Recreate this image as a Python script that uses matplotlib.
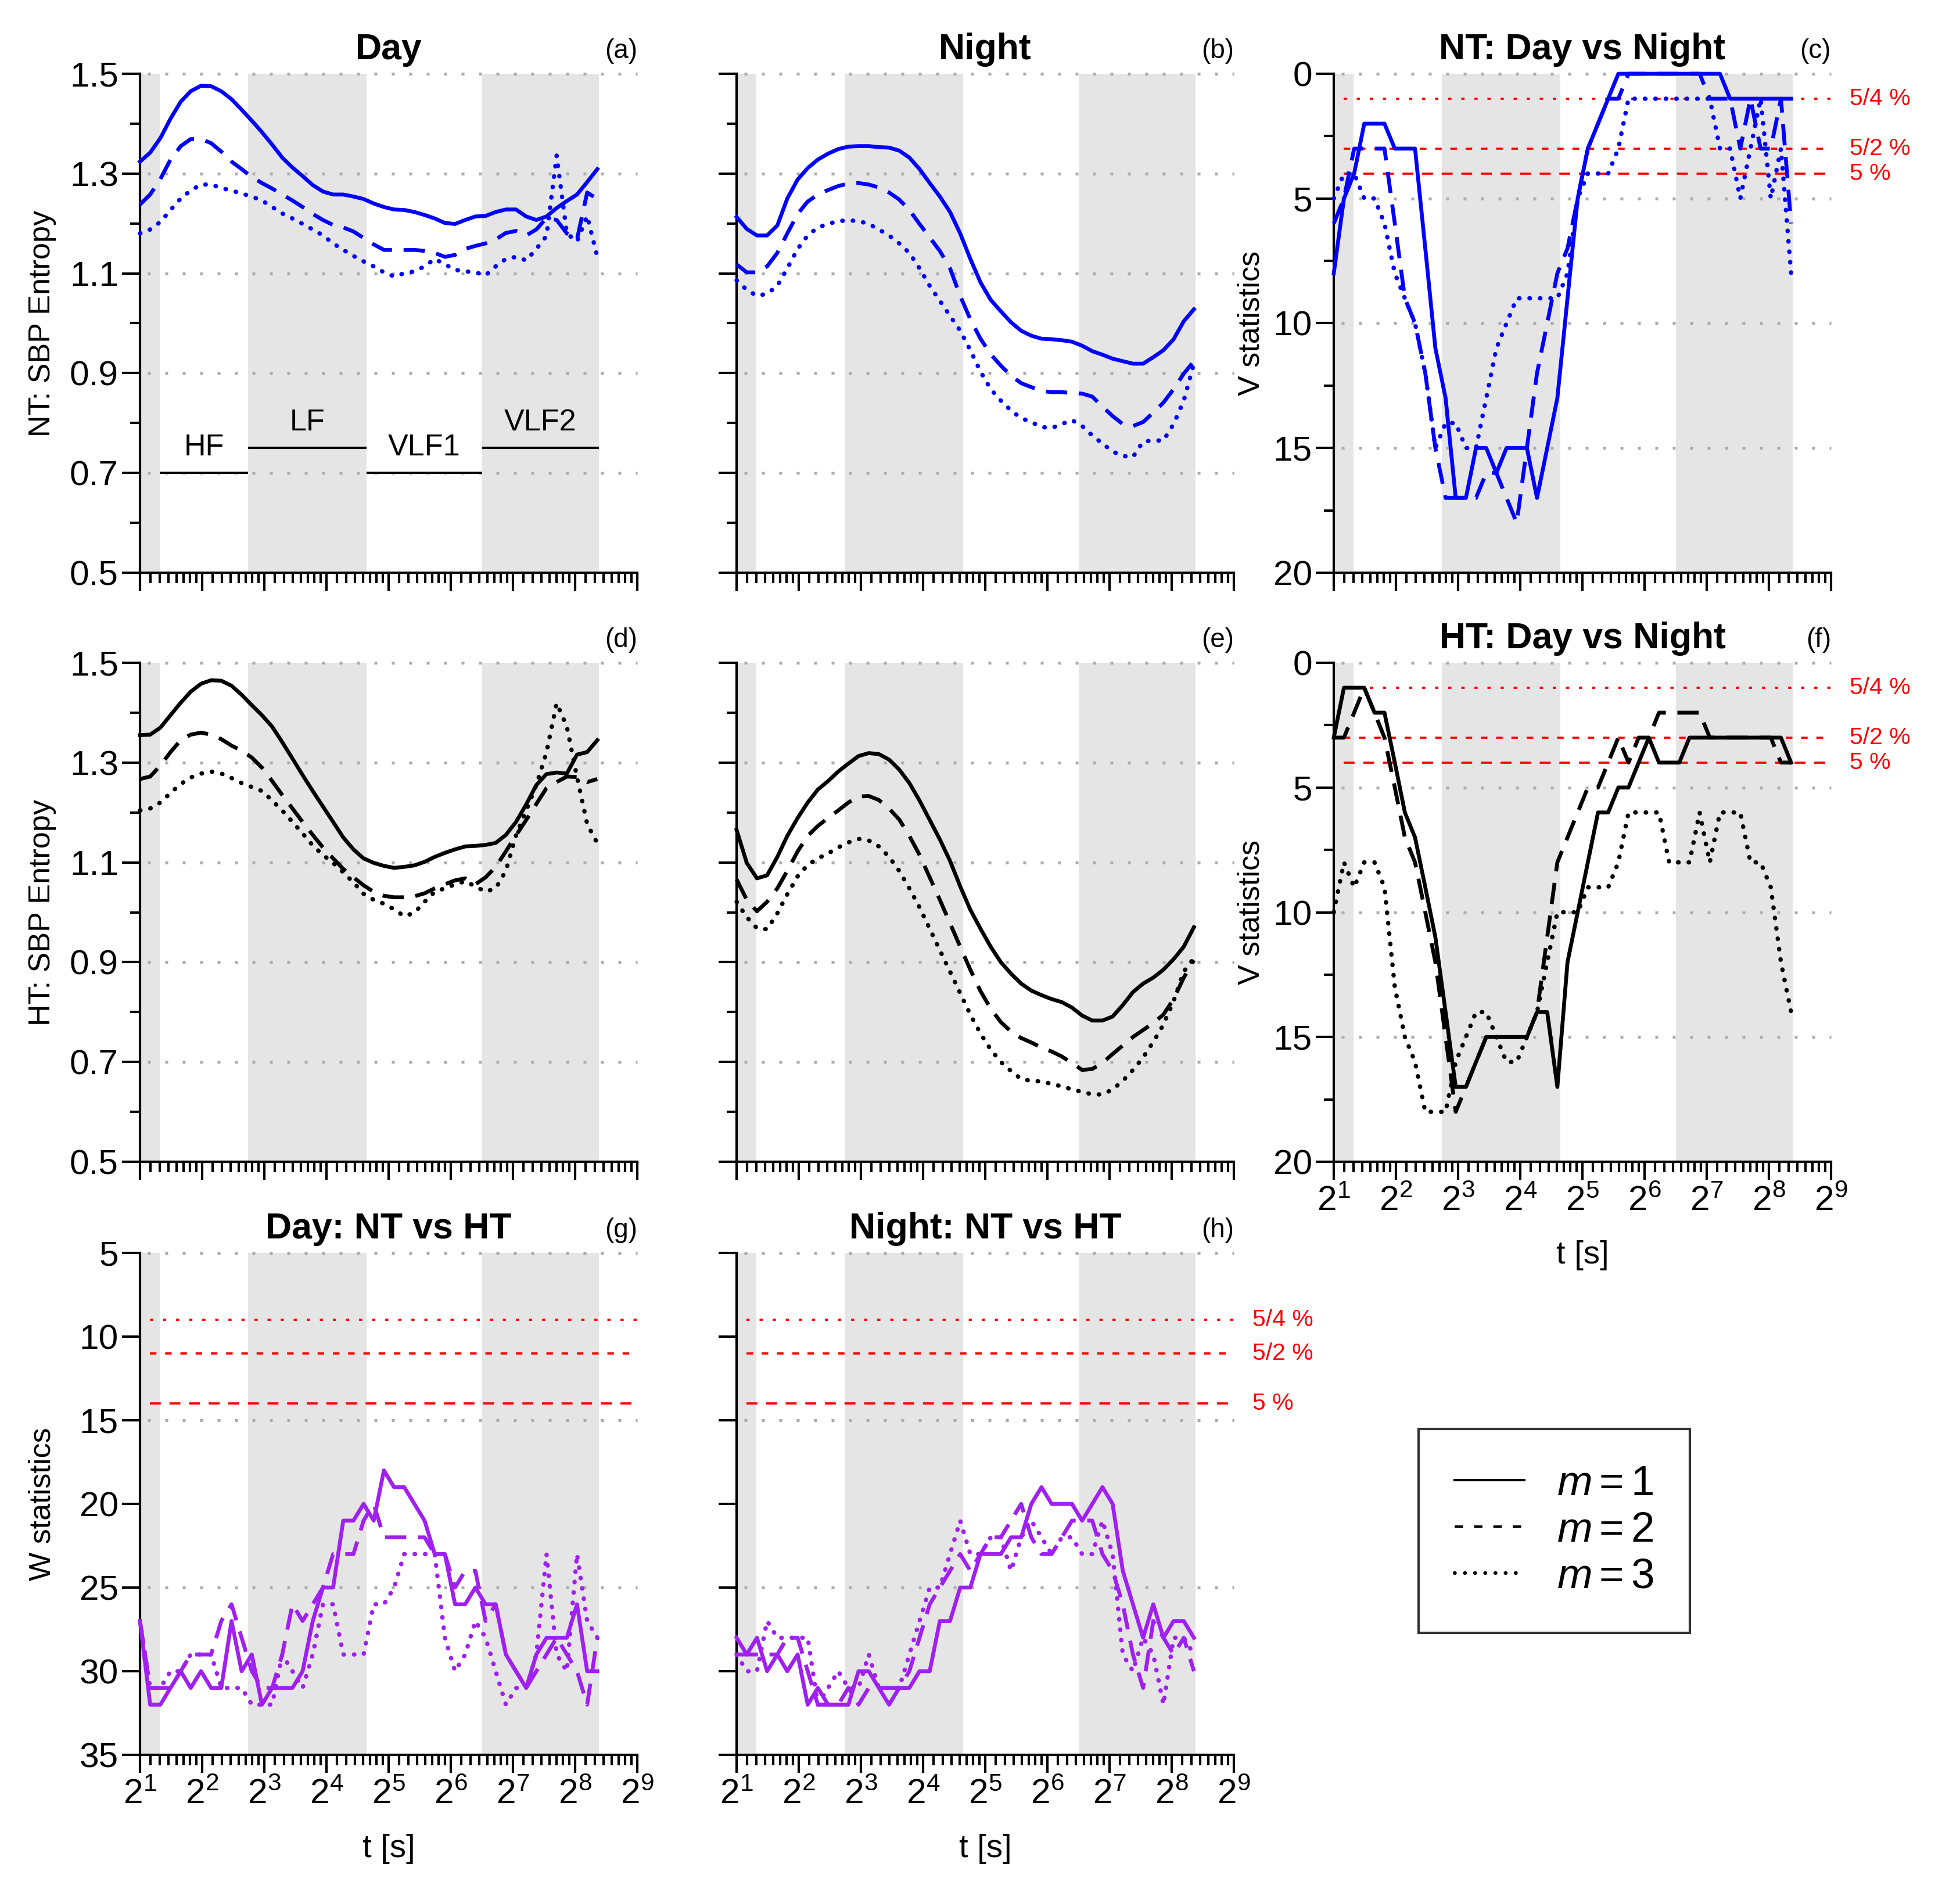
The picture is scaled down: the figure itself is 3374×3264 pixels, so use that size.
import numpy as np
import matplotlib
matplotlib.use('Agg')
import matplotlib.pyplot as plt
from matplotlib.ticker import (LogLocator, LogFormatterMathtext, NullFormatter,
                               FixedLocator, FormatStrFormatter)
from matplotlib.lines import Line2D

plt.rcParams['font.family'] = ['Liberation Sans', 'DejaVu Sans']
plt.rcParams['mathtext.fontset'] = 'custom'
plt.rcParams['mathtext.rm'] = 'Liberation Sans'
plt.rcParams['mathtext.it'] = 'Liberation Sans:italic'
plt.rcParams['mathtext.bf'] = 'Liberation Sans:bold'

# ---------------- data ----------------
T = [2.00, 2.24, 2.51, 2.81, 3.15, 3.52, 3.95, 4.42, 4.95, 5.55,
     6.21, 6.96, 7.79, 8.73, 9.77, 10.95, 12.26, 13.73, 15.38, 17.23,
     19.29, 21.61, 24.20, 27.10, 30.36, 34.00, 38.08, 42.65, 47.77, 53.50,
     59.92, 67.11, 75.16, 84.18, 94.29, 105.60, 118.27, 132.46, 148.36, 166.16,
     186.10, 208.43, 233.45, 261.46, 292.84, 327.98]

# (a) NT, Day: SBP entropy
NT_DAY_M1 = [1.324, 1.342, 1.371, 1.410, 1.444, 1.465, 1.476, 1.475, 1.465, 1.449,
             1.428, 1.406, 1.383, 1.358, 1.332, 1.312, 1.295, 1.277, 1.264, 1.258,
             1.258, 1.254, 1.249, 1.240, 1.233, 1.228, 1.227, 1.223, 1.217, 1.210,
             1.201, 1.199, 1.207, 1.214, 1.215, 1.223, 1.228, 1.228, 1.214, 1.207,
             1.214, 1.231, 1.245, 1.258, 1.283, 1.309]
NT_DAY_M2 = [1.238, 1.258, 1.289, 1.328, 1.355, 1.369, 1.369, 1.361, 1.344, 1.324,
             1.309, 1.293, 1.281, 1.270, 1.258, 1.246, 1.233, 1.219, 1.207, 1.197,
             1.192, 1.184, 1.171, 1.158, 1.147, 1.147, 1.147, 1.147, 1.145, 1.141,
             1.133, 1.137, 1.149, 1.155, 1.160, 1.168, 1.181, 1.185, 1.176, 1.188,
             1.211, 1.207, 1.180, 1.168, 1.262, 1.249]
NT_DAY_M3 = [1.180, 1.188, 1.203, 1.227, 1.250, 1.266, 1.278, 1.278, 1.271, 1.266,
             1.260, 1.254, 1.246, 1.233, 1.220, 1.210, 1.199, 1.188, 1.176, 1.160,
             1.147, 1.135, 1.124, 1.114, 1.102, 1.094, 1.100, 1.104, 1.114, 1.129,
             1.118, 1.107, 1.104, 1.102, 1.096, 1.114, 1.129, 1.133, 1.126, 1.149,
             1.175, 1.336, 1.180, 1.164, 1.215, 1.133]

# (b) NT, Night
NT_NIGHT_M1 = [1.213, 1.189, 1.176, 1.176, 1.196, 1.250, 1.288, 1.311, 1.328, 1.340,
               1.349, 1.354, 1.355, 1.355, 1.353, 1.352, 1.346, 1.332, 1.309, 1.281,
               1.254, 1.223, 1.180, 1.129, 1.082, 1.047, 1.024, 1.002, 0.985, 0.975,
               0.969, 0.968, 0.966, 0.963, 0.955, 0.944, 0.937, 0.929, 0.924, 0.919,
               0.919, 0.932, 0.946, 0.968, 1.004, 1.028]
NT_NIGHT_M2 = [1.118, 1.102, 1.102, 1.114, 1.141, 1.180, 1.219, 1.244, 1.258, 1.267,
               1.275, 1.280, 1.281, 1.278, 1.272, 1.262, 1.248, 1.227, 1.199, 1.172,
               1.145, 1.110, 1.055, 1.008, 0.969, 0.938, 0.915, 0.895, 0.880, 0.872,
               0.864, 0.862, 0.862, 0.860, 0.859, 0.853, 0.833, 0.814, 0.798, 0.794,
               0.802, 0.821, 0.841, 0.868, 0.899, 0.924]
NT_NIGHT_M3 = [1.086, 1.067, 1.055, 1.059, 1.075, 1.110, 1.149, 1.176, 1.192, 1.199,
               1.205, 1.206, 1.205, 1.199, 1.188, 1.176, 1.160, 1.141, 1.110, 1.075,
               1.045, 1.015, 0.985, 0.946, 0.903, 0.868, 0.845, 0.825, 0.810, 0.802,
               0.792, 0.790, 0.798, 0.806, 0.794, 0.775, 0.759, 0.743, 0.734, 0.732,
               0.763, 0.765, 0.765, 0.798, 0.845, 0.919]

# (d) HT, Day
HT_DAY_M1 = [1.355, 1.356, 1.370, 1.395, 1.420, 1.442, 1.458, 1.465, 1.464, 1.454,
             1.436, 1.415, 1.395, 1.372, 1.341, 1.308, 1.275, 1.243, 1.212, 1.181,
             1.150, 1.126, 1.108, 1.099, 1.093, 1.089, 1.091, 1.094, 1.101, 1.111,
             1.119, 1.126, 1.132, 1.133, 1.135, 1.139, 1.155, 1.181, 1.216, 1.255,
             1.277, 1.280, 1.278, 1.316, 1.321, 1.345]
HT_DAY_M2 = [1.267, 1.272, 1.294, 1.321, 1.345, 1.356, 1.360, 1.356, 1.347, 1.334,
             1.324, 1.310, 1.290, 1.263, 1.235, 1.208, 1.181, 1.155, 1.130, 1.108,
             1.087, 1.070, 1.054, 1.041, 1.033, 1.030, 1.030, 1.032, 1.038, 1.048,
             1.056, 1.064, 1.068, 1.056, 1.070, 1.091, 1.122, 1.154, 1.185, 1.217,
             1.249, 1.261, 1.272, 1.271, 1.261, 1.267]
HT_DAY_M3 = [1.204, 1.208, 1.220, 1.239, 1.257, 1.270, 1.278, 1.282, 1.278, 1.269,
             1.259, 1.251, 1.243, 1.224, 1.204, 1.181, 1.158, 1.134, 1.115, 1.099,
             1.080, 1.060, 1.037, 1.025, 1.017, 1.006, 0.992, 0.999, 1.021, 1.041,
             1.048, 1.056, 1.062, 1.052, 1.041, 1.048, 1.083, 1.154, 1.204, 1.255,
             1.321, 1.419, 1.372, 1.271, 1.177, 1.138]

# (e) HT, Night
HT_NIGHT_M1 = [1.165, 1.099, 1.068, 1.074, 1.111, 1.153, 1.189, 1.220, 1.246, 1.263,
               1.282, 1.298, 1.313, 1.319, 1.317, 1.306, 1.286, 1.259, 1.224, 1.185,
               1.146, 1.103, 1.052, 1.005, 0.967, 0.931, 0.900, 0.877, 0.857, 0.843,
               0.834, 0.826, 0.820, 0.809, 0.793, 0.783, 0.783, 0.791, 0.814, 0.840,
               0.857, 0.869, 0.885, 0.906, 0.931, 0.970]
HT_NIGHT_M2 = [1.066, 1.025, 1.002, 1.021, 1.048, 1.083, 1.122, 1.153, 1.173, 1.189,
               1.204, 1.220, 1.232, 1.233, 1.225, 1.208, 1.186, 1.153, 1.115, 1.070,
               1.025, 0.978, 0.931, 0.885, 0.842, 0.807, 0.780, 0.761, 0.748, 0.739,
               0.729, 0.721, 0.711, 0.698, 0.684, 0.686, 0.698, 0.716, 0.733, 0.750,
               0.764, 0.778, 0.795, 0.826, 0.869, 0.904]
HT_NIGHT_M3 = [1.021, 0.990, 0.968, 0.966, 0.998, 1.036, 1.072, 1.095, 1.108, 1.118,
               1.130, 1.140, 1.147, 1.144, 1.132, 1.111, 1.083, 1.048, 1.010, 0.967,
               0.924, 0.881, 0.838, 0.795, 0.757, 0.725, 0.700, 0.682, 0.666, 0.662,
               0.661, 0.656, 0.651, 0.645, 0.640, 0.635, 0.635, 0.645, 0.662, 0.684,
               0.709, 0.740, 0.775, 0.822, 0.881, 0.908]

# (c) NT: Day vs Night, V statistics
NT_V_M1 = [8, 5, 4, 2, 2, 2, 3, 3, 3, 7,
           11, 13, 17, 17, 15, 15, 16, 15, 15, 15,
           17, 15, 13, 9, 5, 3, 2, 1, 0, 0,
           0, 0, 0, 0, 0, 0, 0, 0, 0, 1,
           1, 1, 1, 1, 1, 1]
NT_V_M2 = [6, 5, 3, 3, 3, 3, 6, 9, 10, 12,
           15, 17, 17, 17, 17, 16, 16, 17, 18, 15,
           12, 10, 8, 7, 5, 3, 2, 1, 1, 0,
           0, 0, 0, 0, 0, 0, 0, 1, 1, 1,
           3, 1, 3, 3, 1, 6]
NT_V_M3 = [5, 4, 4, 5, 5, 6, 8, 9, 10, 12,
           15, 14, 14, 15, 15, 13, 11, 10, 9, 9,
           9, 9, 9, 8, 5, 4, 4, 4, 3, 1,
           1, 1, 1, 1, 1, 1, 1, 1, 3, 3,
           5, 3, 1, 5, 3, 8]

# (f) HT: Day vs Night, V statistics
HT_V_M1 = [3, 1, 1, 1, 2, 2, 4, 6, 7, 9,
           11, 14, 17, 17, 16, 15, 15, 15, 15, 15,
           14, 14, 17, 12, 10, 8, 6, 6, 5, 5,
           4, 3, 4, 4, 4, 3, 3, 3, 3, 3,
           3, 3, 3, 3, 3, 4]
HT_V_M2 = [3, 3, 2, 1, 2, 3, 5, 7, 8, 10,
           12, 15, 18, 17, 16, 15, 15, 15, 15, 15,
           14, 11, 8, 7, 6, 5, 5, 4, 3, 4,
           3, 3, 2, 2, 2, 2, 2, 3, 3, 3,
           3, 3, 3, 3, 4, 4]
HT_V_M3 = [10, 8, 9, 8, 8, 9, 13, 15, 16, 18,
           18, 18, 16, 15, 14, 14, 15, 16, 16, 15,
           14, 12, 10, 10, 10, 9, 9, 9, 8, 6,
           6, 6, 6, 8, 8, 8, 6, 8, 6, 6,
           6, 8, 8, 9, 12, 14]

# (g) Day: NT vs HT, W statistics
DAY_W_M1 = [27, 32, 32, 31, 30, 31, 30, 31, 31, 27,
            30, 29, 32, 31, 31, 31, 30, 27, 25, 25,
            21, 21, 20, 21, 18, 19, 19, 20, 21, 23,
            23, 26, 26, 25, 26, 26, 29, 30, 31, 29,
            28, 28, 28, 26, 30, 30]
DAY_W_M2 = [27, 31, 31, 31, 30, 29, 29, 29, 27, 26,
            28, 30, 31, 31, 29, 26, 27, 26, 25, 23,
            23, 23, 21, 20, 22, 22, 22, 22, 22, 23,
            23, 25, 24, 24, 27, 26, 29, 30, 31, 30,
            29, 28, 29, 30, 32, 28]
DAY_W_M3 = [27, 31, 31, 30, 30, 29, 29, 29, 31, 31,
            31, 32, 32, 32, 29, 30, 31, 29, 26, 26,
            29, 29, 29, 26, 26, 25, 23, 23, 23, 23,
            28, 30, 29, 27, 28, 30, 32, 31, 31, 29,
            23, 29, 30, 23, 27, 28]

# (h) Night: NT vs HT, W statistics
NIGHT_W_M1 = [28, 29, 28, 30, 29, 30, 29, 32, 31, 32,
              32, 32, 30, 30, 31, 32, 31, 31, 30, 30,
              27, 27, 25, 25, 23, 23, 23, 22, 22, 20,
              19, 20, 20, 20, 21, 20, 19, 20, 24, 26,
              28, 26, 28, 27, 27, 28]
NIGHT_W_M2 = [29, 29, 29, 29, 29, 28, 28, 30, 32, 32,
              32, 31, 32, 31, 31, 31, 31, 30, 28, 26,
              25, 24, 23, 24, 23, 22, 22, 21, 20, 22,
              23, 23, 22, 21, 21, 21, 23, 24, 26, 29,
              31, 27, 28, 29, 28, 30]
NIGHT_W_M3 = [29, 30, 30, 27, 28, 28, 28, 28, 32, 31,
              30, 31, 31, 29, 31, 31, 31, 29, 27, 25,
              25, 23, 21, 23, 23, 22, 22, 24, 22, 21,
              22, 23, 22, 22, 23, 23, 21, 23, 29, 30,
              28, 29, 32, 28, 28, 29]

# frequency bands (shaded spans, band label lines)
SHADED = [(2.0, 2.5), (6.67, 25.0), (90.9, 333.3)]
BAND_NAMES = ['HF', 'LF', 'VLF1', 'VLF2']
BAND_EDGES = [(2.5, 6.67), (6.67, 25.0), (25.0, 90.9), (90.9, 333.3)]
BAND_LEVEL = [0.70, 0.75, 0.70, 0.75]

SIG_V = [1, 3, 4]
SIG_W = [9, 11, 14]
SIG_LABELS = ['5/4 %', '5/2 %', '5 %']
M_VALUES = [1, 2, 3]

BLUE = '#0000ff'
PURPLE = '#a020f0'
BLACK = '#000000'

# ---------------- styling ----------------
LINE_STYLES = [
    dict(linestyle='-', lw=1.6),
    dict(linestyle=(0, (5.5, 3.0)), lw=1.6),
    dict(linestyle=(0, (0.1, 2.3)), lw=1.8, dash_capstyle='round'),
]
SIG_STYLES = [(0, (1.5, 4.5)), (0, (3, 4)), (0, (5, 4))]
SHADE_COLOR = '#e5e5e5'
GRID_COLOR = '#ababab'
TICK_FS = 14.5

fig = plt.figure(figsize=(3374 / 300, 3264 / 300), dpi=300)

COL_L = [241 / 3374, 1268 / 3374, 2296 / 3374]
AX_W = 856 / 3374
ROW_B = [1 - 986 / 3264, 1 - 2000 / 3264, 1 - 3021 / 3264]
ROW_H = [859 / 3264, 859 / 3264, 864 / 3264]


def make_ax(r, c):
    return fig.add_axes([COL_L[c], ROW_B[r], AX_W, ROW_H[r]])


def base_setup(ax, kind, xlabels, ylabels):
    ax.set_xscale('log', base=2)
    ax.set_xlim(2, 512)
    for s in ('top', 'right'):
        ax.spines[s].set_visible(False)
    for s in ('left', 'bottom'):
        ax.spines[s].set_linewidth(1.0)
    for a, b in SHADED:
        ax.axvspan(a, b, color=SHADE_COLOR, lw=0, zorder=0)
    ax.xaxis.set_major_locator(LogLocator(base=2, numticks=20))
    ax.xaxis.set_minor_locator(LogLocator(base=2, subs=np.arange(1.125, 2.0, 0.125), numticks=200))
    ax.xaxis.set_minor_formatter(NullFormatter())
    if xlabels:
        ax.xaxis.set_major_formatter(LogFormatterMathtext(base=2))
    else:
        ax.xaxis.set_major_formatter(NullFormatter())
    if kind == 'H':
        ax.set_ylim(0.5, 1.5)
        ax.yaxis.set_major_locator(FixedLocator([0.5, 0.7, 0.9, 1.1, 1.3, 1.5]))
        ax.yaxis.set_minor_locator(FixedLocator([0.6, 0.8, 1.0, 1.2, 1.4]))
        ax.yaxis.set_major_formatter(FormatStrFormatter('%.1f'))
        grid = [0.7, 0.9, 1.1, 1.3, 1.5]
    elif kind == 'V':
        ax.set_ylim(20, 0)
        ax.yaxis.set_major_locator(FixedLocator([0, 5, 10, 15, 20]))
        ax.yaxis.set_minor_locator(FixedLocator([2.5, 7.5, 12.5, 17.5]))
        ax.yaxis.set_major_formatter(FormatStrFormatter('%d'))
        grid = [0, 5, 10, 15]
    else:
        ax.set_ylim(35, 5)
        ax.yaxis.set_major_locator(FixedLocator([5, 10, 15, 20, 25, 30, 35]))
        ax.yaxis.set_minor_locator(FixedLocator([]))
        ax.yaxis.set_major_formatter(FormatStrFormatter('%d'))
        grid = [5, 15, 25]
    if not ylabels:
        ax.yaxis.set_major_formatter(NullFormatter())
    for g in grid:
        ax.axhline(g, xmin=0.015, xmax=1.0, color=GRID_COLOR, lw=1.2,
                   linestyle=(0, (1, 5)), zorder=1, clip_on=False)
    ax.tick_params(which='major', direction='out', length=7.4, width=1.0,
                   labelsize=TICK_FS)
    ax.tick_params(axis='y', which='major', pad=1.5)
    ax.tick_params(axis='x', which='major', pad=2.5)
    ax.tick_params(which='minor', direction='out', length=4.2, width=1.0)


def draw_series(ax, series, color):
    for y, st in zip(series, LINE_STYLES):
        ax.plot(T, y, color=color, clip_on=False, zorder=4, **st)


def draw_sig(ax, levels, labelled):
    for lev, st, lab in zip(levels, SIG_STYLES, SIG_LABELS):
        ax.axhline(lev, xmin=0.02, xmax=1.0, color='red', lw=0.9, linestyle=st,
                   zorder=2, clip_on=False)
        if labelled:
            ax.text(1.037, lev, lab, color='red', fontsize=9.8, ha='left', va='center',
                    transform=ax.get_yaxis_transform(), clip_on=False)


def title(ax, text, letter):
    if text:
        ax.text(0.5, 1.029, text, transform=ax.transAxes, ha='center', va='baseline',
                fontsize=15, fontweight='bold')
    ax.text(1.0, 1.031, letter, transform=ax.transAxes, ha='right', va='baseline',
            fontsize=11)


# (a)
ax = make_ax(0, 0)
base_setup(ax, 'H', False, True)
draw_series(ax, [NT_DAY_M1, NT_DAY_M2, NT_DAY_M3], BLUE)
for name, (x0, x1), lev in zip(BAND_NAMES, BAND_EDGES, BAND_LEVEL):
    ax.hlines(lev, x0, x1, colors='black', lw=1.0, zorder=3)
    ax.text(np.sqrt(x0 * x1), lev + 0.035, name, ha='center', va='baseline', fontsize=12.5)
ax.set_ylabel('NT: SBP Entropy', fontsize=12.5)
ax.yaxis.set_label_coords(-0.168, 0.5)
title(ax, 'Day', '(a)')

# (b)
ax = make_ax(0, 1)
base_setup(ax, 'H', False, False)
draw_series(ax, [NT_NIGHT_M1, NT_NIGHT_M2, NT_NIGHT_M3], BLUE)
title(ax, 'Night', '(b)')

# (c)
ax = make_ax(0, 2)
base_setup(ax, 'V', False, True)
draw_sig(ax, SIG_V, True)
draw_series(ax, [NT_V_M1, NT_V_M2, NT_V_M3], BLUE)
ax.set_ylabel('V statistics', fontsize=12.5)
ax.yaxis.set_label_coords(-0.137, 0.5)
title(ax, 'NT: Day vs Night', '(c)')

# (d)
ax = make_ax(1, 0)
base_setup(ax, 'H', False, True)
draw_series(ax, [HT_DAY_M1, HT_DAY_M2, HT_DAY_M3], BLACK)
ax.set_ylabel('HT: SBP Entropy', fontsize=12.5)
ax.yaxis.set_label_coords(-0.168, 0.5)
title(ax, None, '(d)')

# (e)
ax = make_ax(1, 1)
base_setup(ax, 'H', False, False)
draw_series(ax, [HT_NIGHT_M1, HT_NIGHT_M2, HT_NIGHT_M3], BLACK)
title(ax, None, '(e)')

# (f)
ax = make_ax(1, 2)
base_setup(ax, 'V', True, True)
draw_sig(ax, SIG_V, True)
draw_series(ax, [HT_V_M1, HT_V_M2, HT_V_M3], BLACK)
ax.set_ylabel('V statistics', fontsize=12.5)
ax.yaxis.set_label_coords(-0.137, 0.5)
ax.set_xlabel('t [s]', fontsize=13.5)
ax.xaxis.set_label_coords(0.5, -0.157)
title(ax, 'HT: Day vs Night', '(f)')

# (g)
ax = make_ax(2, 0)
base_setup(ax, 'W', True, True)
draw_sig(ax, SIG_W, False)
draw_series(ax, [DAY_W_M1, DAY_W_M2, DAY_W_M3], PURPLE)
ax.set_ylabel('W statistics', fontsize=12.5)
ax.yaxis.set_label_coords(-0.168, 0.5)
ax.set_xlabel('t [s]', fontsize=13.5)
ax.xaxis.set_label_coords(0.5, -0.157)
title(ax, 'Day: NT vs HT', '(g)')

# (h)
ax = make_ax(2, 1)
base_setup(ax, 'W', True, False)
draw_sig(ax, SIG_W, True)
draw_series(ax, [NIGHT_W_M1, NIGHT_W_M2, NIGHT_W_M3], PURPLE)
ax.set_xlabel('t [s]', fontsize=13.5)
ax.xaxis.set_label_coords(0.5, -0.157)
title(ax, 'Night: NT vs HT', '(h)')

# legend
handles = [
    Line2D([], [], color='black', lw=1.0, linestyle='-'),
    Line2D([], [], color='black', lw=1.0, linestyle=(0, (3.5, 4.5))),
    Line2D([], [], color='black', lw=1.5, linestyle=(0, (0.1, 2.7)), dash_capstyle='round'),
]
labels = [r'$m = %d$' % m for m in M_VALUES]
leg = fig.legend(handles, labels, loc='center', bbox_to_anchor=(0.7929, 0.1926),
                 fontsize=17.5, frameon=True, fancybox=False, edgecolor='black',
                 handlelength=1.65, handletextpad=0.77, labelspacing=0.18, borderpad=0.85)
leg.get_frame().set_linewidth(1.0)

fig.savefig('out.png', dpi=300)
